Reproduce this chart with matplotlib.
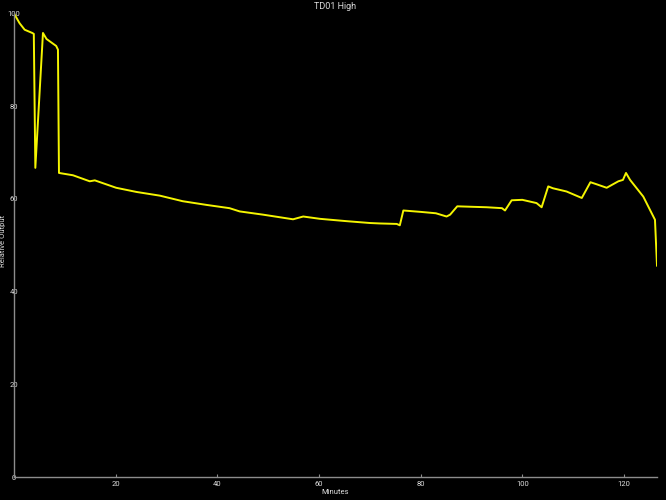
import matplotlib.pyplot as plt

# values
minutes = [0.0, 1.1, 2.1, 3.6, 3.9, 4.2, 5.7, 6.4, 8.3, 8.65, 8.85,
           11.6, 14.9, 15.9, 20.1, 24.1, 28.7, 33.2, 37.9, 42.4, 44.4,
           49.0, 54.9, 56.9, 60.2, 65.4, 70.0, 72.0, 75.3, 75.9, 76.6,
           80.0, 83.0, 85.1, 85.8, 87.2, 90.0, 93.0, 96.0, 96.6, 97.9,
           100.0, 102.8, 103.8, 105.1, 106.0, 108.7, 111.7, 113.4, 114.5,
           116.6, 118.9, 119.8, 120.4, 121.2, 123.8, 126.1, 126.5]
output = [100.0, 97.9, 96.5, 95.8, 95.6, 66.7, 95.8, 94.5, 93.0, 92.2, 65.6,
          65.1, 63.8, 64.0, 62.4, 61.5, 60.7, 59.5, 58.7, 58.0, 57.3,
          56.6, 55.6, 56.2, 55.7, 55.2, 54.8, 54.7, 54.6, 54.3, 57.5,
          57.2, 56.9, 56.2, 56.6, 58.4, 58.3, 58.2, 58.0, 57.5, 59.7,
          59.8, 59.1, 58.2, 62.7, 62.3, 61.6, 60.2, 63.6, 63.2,
          62.4, 63.8, 64.1, 65.6, 64.1, 60.5, 55.5, 45.6]

text_col = '#dcdcdc'
axis_col = '#8c8c8c'

plt.rcParams['font.family'] = ['Roboto', 'DejaVu Sans']

fig = plt.figure(figsize=(6.66, 5.0), dpi=100, facecolor='black')
ax = fig.add_axes([0.021, 0.046, 0.9655, 0.927], facecolor='black')

ax.plot(minutes, output, color='#f5f500', linewidth=1.4)

ax.set_xlim(0, 126.5)
ax.set_ylim(0, 100)
ax.set_xticks([20, 40, 60, 80, 100, 120])
ax.set_yticks([0, 20, 40, 60, 80, 100])

for side in ['top', 'right']:
    ax.spines[side].set_visible(False)
for side in ['left', 'bottom']:
    ax.spines[side].set_color(axis_col)
    ax.spines[side].set_linewidth(1.0)

ax.tick_params(axis='x', direction='in', length=2, color=axis_col,
               labelcolor=text_col, labelsize=5.5, pad=3)
ax.tick_params(axis='y', length=0, labelcolor=text_col, labelsize=5.5, pad=0)
for lab in ax.get_yticklabels():
    lab.set_horizontalalignment('center')

ax.set_xlabel('Minutes', color=text_col, fontsize=5.5, labelpad=1)
ax.set_ylabel('Relative Output', color=text_col, fontsize=5.5, labelpad=2)
ax.yaxis.set_label_coords(-0.012, 0.51)
ax.set_title('TD01 High', color=text_col, fontsize=6.5, pad=3)

fig.savefig('out.png', dpi=100, facecolor='black')
